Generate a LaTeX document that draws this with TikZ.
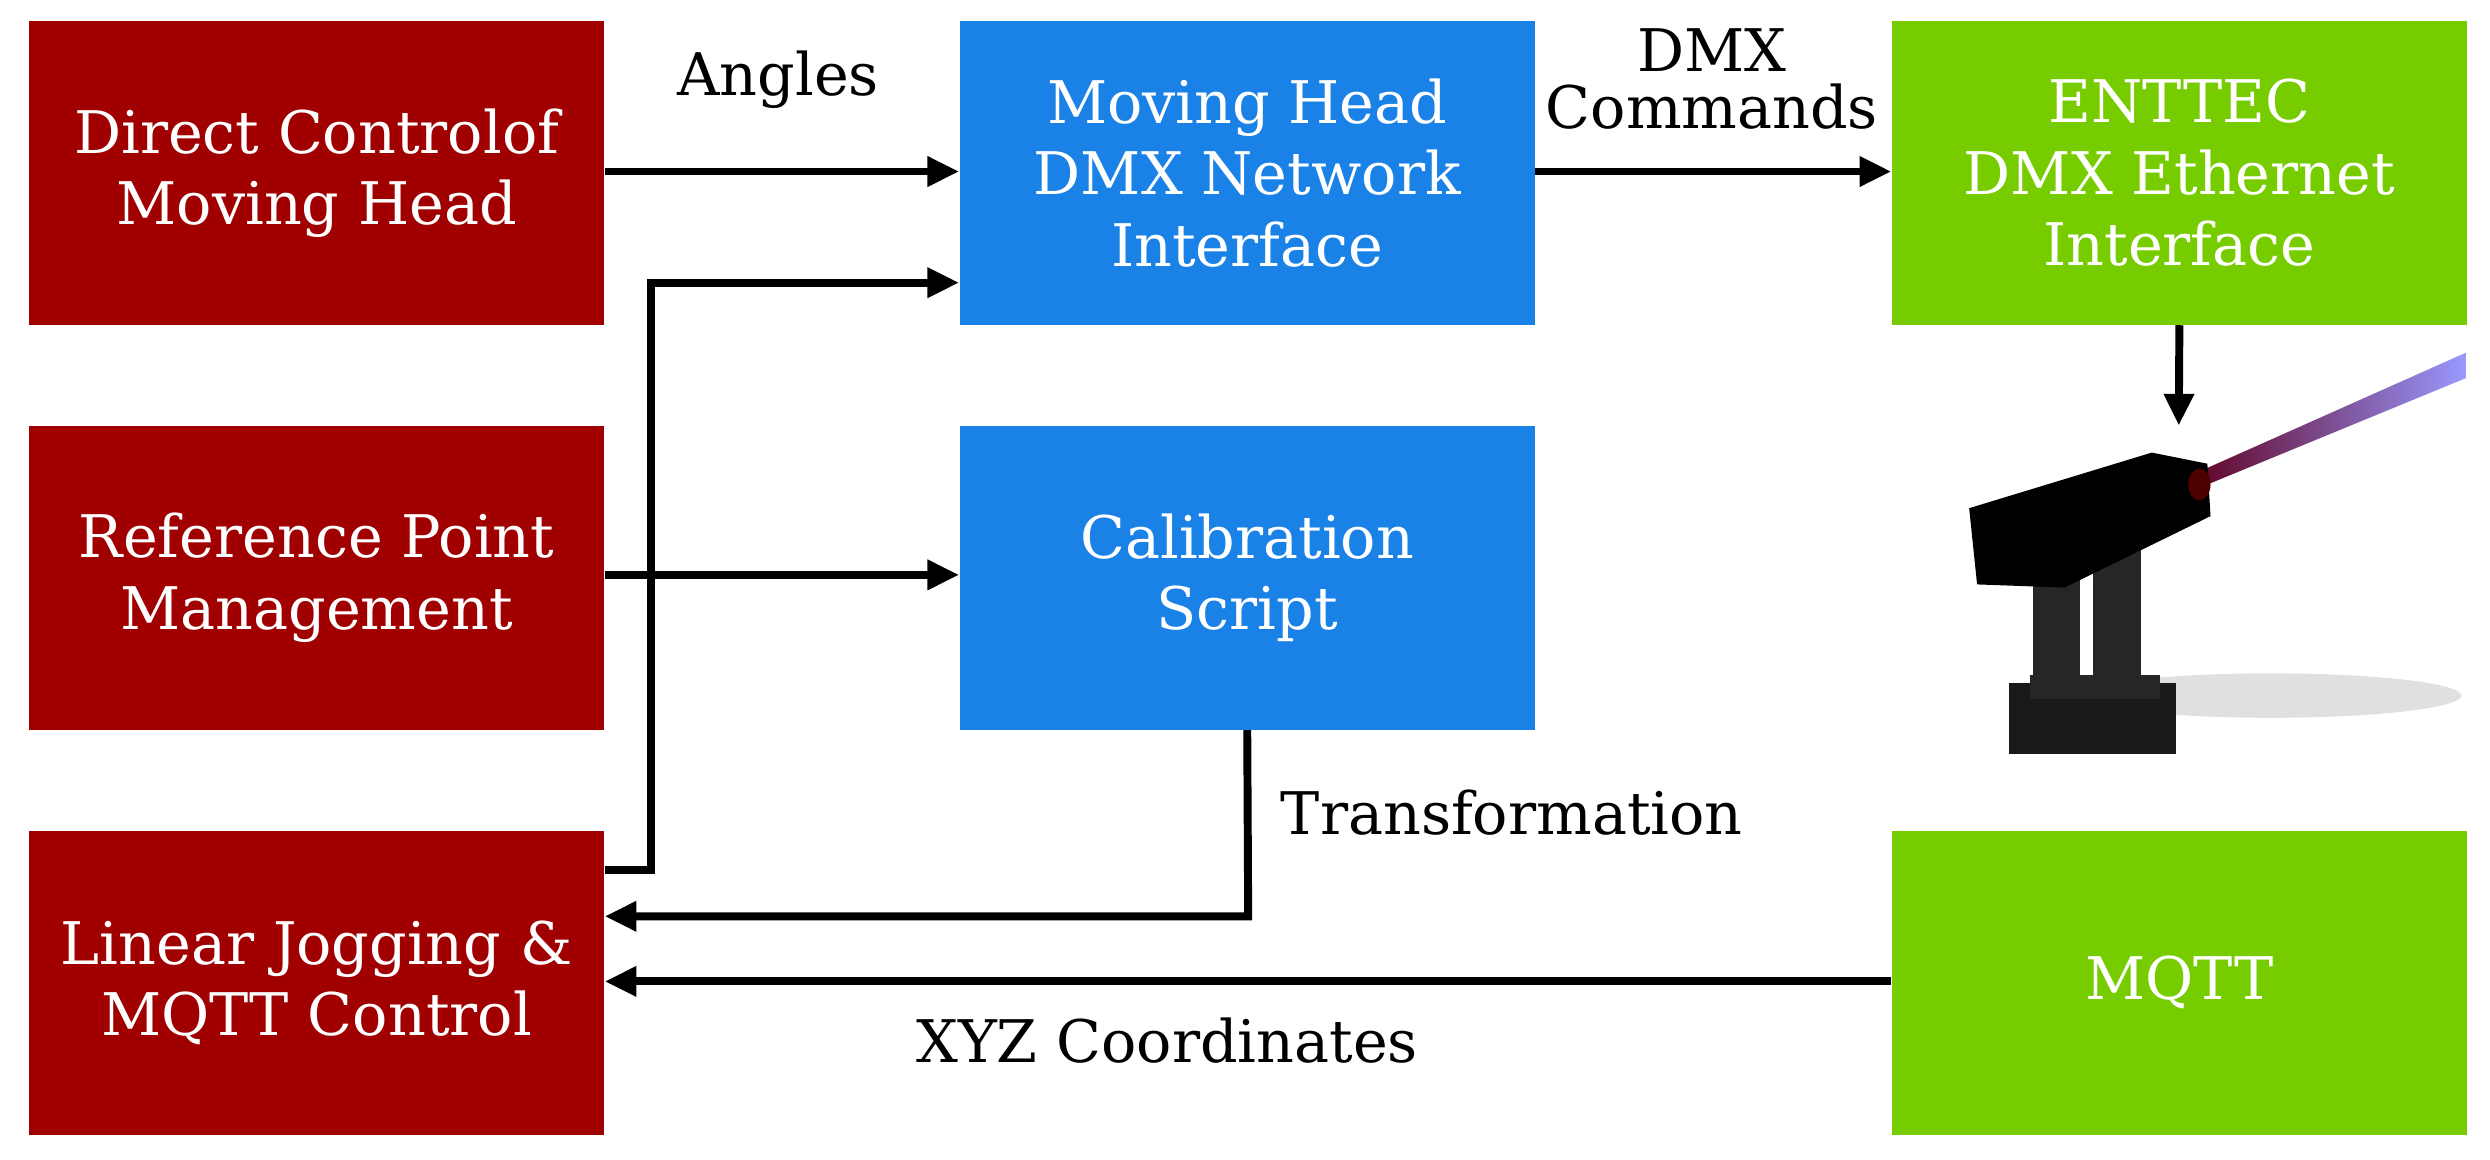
\documentclass[tikz,border=0pt]{standalone}
\usepackage{fontspec}
\setmainfont{DejaVu Serif}
\usetikzlibrary{arrows.meta}
\definecolor{rbox}{HTML}{A00000}
\definecolor{bbox}{HTML}{1A82E6}
\definecolor{gbox}{HTML}{77CC00}
\begin{document}
\begin{tikzpicture}[x=0.5pt,y=-0.5pt,
  box/.style={minimum width=181pt,minimum height=95.5pt,inner sep=0pt,align=center,text=white,font=\fontsize{18.5}{22.5}\selectfont,anchor=north west},
  arr/.style={line width=2.5pt,-{Triangle[length=10pt,width=9pt]}},
  lbl/.style={font=\fontsize{18.5}{21}\selectfont,align=center}]
\useasboundingbox (0,0) rectangle (1568,730);
\node[box,fill=rbox] (r1) at (18,13) {Direct Controlof\\Moving Head};
\node[box,fill=rbox] (r2) at (18,268) {Reference Point\\Management};
\node[box,fill=rbox] (r3) at (18,523) {Linear Jogging \&\\MQTT Control};
\node[box,fill=bbox] (b1) at (604,13) {Moving Head\\DMX Network\\Interface};
\node[box,fill=bbox] (b2) at (604,268) {Calibration\\Script};
\node[box,fill=gbox] (g1) at (1191,13) {ENTTEC\\DMX Ethernet\\Interface};
\node[box,fill=gbox] (g2) at (1191,523) {MQTT};
% moving head drawing
\fill[gray!40,opacity=0.6] (1430,438) ellipse (120 and 14);
\shade[left color=purple!50!black,right color=blue!40!white] (1378,300) -- (1553,222) -- (1553,238) -- (1383,308) -- cycle;
\fill[black!90] (1265,430) rectangle (1370,475);
\fill[black!85] (1278,425) rectangle (1360,440);
\fill[black!85] (1280,330) rectangle (1310,430);
\fill[black!85] (1318,340) rectangle (1348,430);
\fill[black] (1240,320) -- (1355,285) -- (1390,292) -- (1392,325) -- (1300,370) -- (1245,368) -- cycle;
\fill[red!30!black] (1385,305) ellipse (7 and 10);
\coordinate (mh) at (1372,268);
\coordinate (j1) at (410,548);
\coordinate (j2) at (410,178);
\coordinate (t1) at (786,577);
\draw[arr] (r1.east |- 0,108) -- (b1.west |- 0,108);
\draw[arr] (r3.east |- j1) -- (j1) -- (j2) -- (b1.west |- j2);
\draw[arr] (r2.east |- 0,362) -- (b2.west |- 0,362);
\draw[arr] (b1.east |- 0,108) -- (g1.west |- 0,108);
\draw[arr] (g1.south) -- (mh);
\draw[arr] (b2.south) -- (t1) -- (r3.east |- t1);
\draw[arr] (g2.west |- 0,618) -- (r3.east |- 0,618);
\node[lbl] (la) at (490,50) {Angles};
\node[lbl] (ld) at (1078,50) {DMX\\[-3pt]Commands};
\node[lbl] (lt) at (952,512) {Transformation};
\node[lbl] (lx) at (735,655) {XYZ Coordinates};
\end{tikzpicture}
\end{document}
